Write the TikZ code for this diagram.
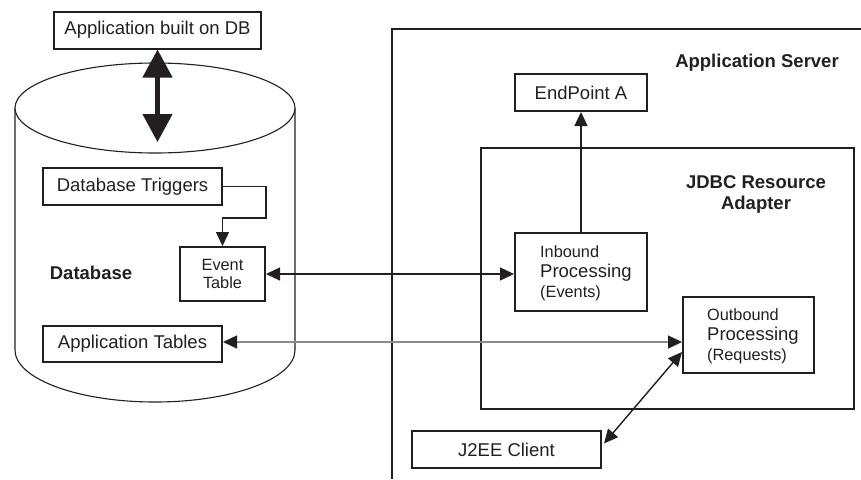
\documentclass[tikz,border=0pt]{standalone}
\usepackage{fontspec}
\setmainfont{Liberation Sans}
\usetikzlibrary{arrows.meta,calc}
\definecolor{ink}{RGB}{35,31,32}
\definecolor{lgray}{RGB}{140,140,140}
\tikzset{
  box/.style={draw=ink, line width=2pt, rectangle, inner sep=0pt, text=ink,
    font=\fontsize{18.5}{22}\selectfont},
  lbl/.style={text=ink, inner sep=0pt, font=\fontsize{18.5}{21}\bfseries\selectfont, align=center},
  small/.style={text=ink, inner sep=0pt, align=left, font=\fontsize{16.3}{20}\selectfont},
  conn/.style={draw=ink, line width=1.4pt},
  tp/.tip={Triangle[length=14pt,width=13pt,color=ink]},
  bigtp/.tip={Triangle[length=28pt,width=29pt,color=ink]},
}
\begin{document}
\begin{tikzpicture}[x=1pt,y=-1pt]
\useasboundingbox (0,0) rectangle (861,479);
% cylinder
\draw[ink, line width=1.1pt] (15,108) -- (15,350)
  arc[start angle=180, end angle=360, x radius=140pt, y radius=52pt] -- (295,108);
\draw[ink, line width=1.1pt, fill=white] (155,108) ellipse [x radius=140pt, y radius=45pt];
% application server
\draw[ink, line width=2pt] (392,479) -- (392,29) -- (861,29);
\node[lbl] (appsrv) at (757,63) {Application Server};
% JDBC adapter
\node[box, minimum width=373pt, minimum height=261pt] (jdbc) at (667.5,278.5) {};
\node[lbl] (jdbclbl) at (756,194.5) {JDBC Resource\\Adapter};
% nodes
\node[box, minimum width=207pt, minimum height=37pt] (aadb) at (157.5,30) {Application built on DB};
\node[box, minimum width=179pt, minimum height=37pt] (trig) at (132.5,186.5) {Database Triggers};
\node[box, minimum width=85pt, minimum height=54pt, align=center,
  font=\fontsize{16.3}{17.5}\selectfont] (evt) at (222.5,274) {Event\\Table};
\node[box, minimum width=179pt, minimum height=36pt] (apptab) at (132.5,344) {Application Tables};
\node[lbl] (dblbl) at (91,273) {Database};
\node[box, minimum width=132pt, minimum height=37pt] (ep) at (581,92.5) {EndPoint A};
\node[box, minimum width=132pt, minimum height=78pt] (inb) at (581,272) {};
\node[small, anchor=west] (inbtxt) at (540,273) {Inbound\\{\fontsize{18.5}{20}\selectfont Processing}\\(Events)};
\node[box, minimum width=131pt, minimum height=76pt] (outb) at (748.5,335) {};
\node[small, anchor=west] (outbtxt) at (707,336) {Outbound\\{\fontsize{18.5}{20}\selectfont Processing}\\(Requests)};
\node[box, minimum width=189pt, minimum height=37pt] (j2ee) at (506.5,449.5) {J2EE Client};
% big arrow
\coordinate (bigend) at (157.5,142);
\draw[ink, line width=4.5pt, {bigtp}-{bigtp}] (aadb.south) -- (bigend);
% triggers to event table
\draw[conn, -{tp}] (trig.east) -- (trig.east -| evt.east) -- ++(0,31.5) -| (evt.north);
% event table <-> inbound
\draw[conn, {tp}-{tp}] (evt.east) -- (evt.east -| inb.west);
% app tables <-> outbound
\draw[draw=lgray, line width=1.4pt, {tp}-{tp}] ($(apptab.east)+(0,-2)$) -- ($(apptab.east -| outb.west)+(0,-2)$);
% inbound -> endpoint
\draw[conn, -{tp}] (inb.north) -- (ep.south);
% j2ee <-> outbound
\draw[conn, {tp}-{tp}] ($(j2ee.east)+(2,-6)$) -- ($(outb.west)+(0,17)$);
\end{tikzpicture}
\end{document}
